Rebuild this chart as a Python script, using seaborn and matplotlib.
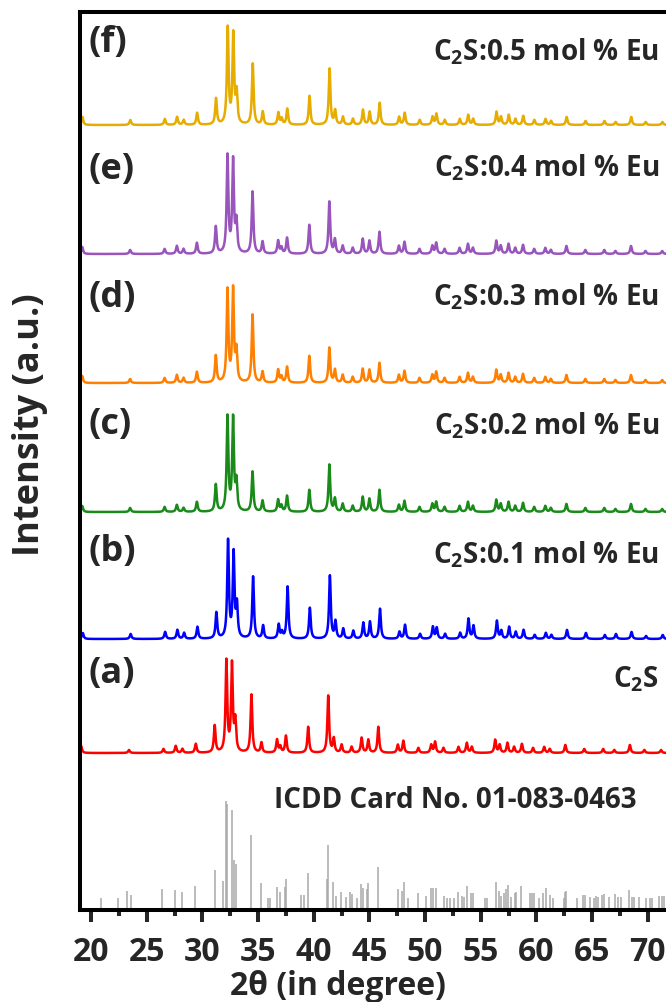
import numpy as np
import pandas as pd
import matplotlib
matplotlib.use("Agg")
import matplotlib.pyplot as plt
import seaborn as sns

# peak positions (2theta, degree)
peak_pos = [19.1, 23.4, 26.5, 27.6, 28.2, 29.4, 31.1, 32.15, 32.65, 32.95,
            34.4, 35.3, 36.7, 37.0, 37.5, 39.5, 41.3, 41.8, 42.5, 43.4,
            44.3, 44.9, 45.8, 47.55, 48.05, 49.4, 50.55, 50.9, 51.65, 53.0,
            53.75, 54.2, 56.3, 56.7, 57.4, 58.0, 58.7, 59.7, 60.7, 61.2,
            62.6, 64.3, 66.0, 67.0, 68.4, 69.7, 71.2]

# peak heights of each sample (same order as peak_pos)
h_a = [7, 3, 4, 7, 4, 9, 27, 91, 87, 30, 58, 10, 13, 6, 17, 26, 57, 14, 8, 6,
       15, 13, 26, 8, 12, 5, 8, 11, 5, 6, 10, 6, 13, 8, 10, 6, 9, 5, 6, 4,
       8, 4, 4, 3, 8, 3, 3]
h_b = [6, 5, 7, 9, 6, 12, 26, 97, 84, 32, 62, 13, 14, 6, 52, 31, 63, 17, 10, 8,
       16, 17, 30, 7, 14, 5, 12, 11, 5, 6, 20, 13, 18, 8, 12, 7, 9, 4, 6, 4,
       9, 6, 4, 5, 7, 3, 4]
h_c = [6, 4, 5, 7, 4, 10, 27, 94, 92, 28, 40, 11, 12, 6, 16, 22, 47, 13, 8, 6,
       15, 13, 22, 7, 11, 5, 8, 10, 5, 6, 10, 6, 12, 8, 10, 6, 9, 5, 6, 4,
       8, 4, 4, 3, 8, 3, 3]
h_d = [7, 4, 5, 8, 5, 11, 27, 92, 92, 30, 68, 11, 13, 6, 16, 27, 35, 13, 8, 6,
       14, 13, 20, 8, 12, 5, 8, 11, 5, 6, 10, 6, 13, 8, 10, 6, 9, 5, 6, 4,
       8, 4, 4, 3, 8, 3, 3]
h_e = [7, 4, 5, 8, 5, 11, 27, 97, 92, 30, 62, 12, 13, 6, 16, 29, 52, 14, 8, 6,
       15, 13, 22, 8, 12, 5, 8, 11, 5, 6, 10, 6, 13, 8, 10, 6, 9, 5, 6, 4,
       8, 4, 4, 3, 8, 3, 3]
h_f = [8, 5, 6, 8, 5, 12, 26, 96, 89, 30, 61, 13, 12, 6, 16, 29, 56, 14, 8, 6,
       15, 13, 22, 8, 12, 5, 8, 11, 5, 6, 10, 6, 13, 8, 10, 6, 9, 5, 6, 4,
       8, 4, 4, 3, 8, 3, 3]
shift = [0.0, 0.15, 0.1, 0.1, 0.1, 0.12]

sample_tags = ["(a)", "(b)", "(c)", "(d)", "(e)", "(f)"]
sample_names = [r"C$_\mathbf{2}$S", r"C$_\mathbf{2}$S:0.1 mol % Eu",
                r"C$_\mathbf{2}$S:0.2 mol % Eu", r"C$_\mathbf{2}$S:0.3 mol % Eu",
                r"C$_\mathbf{2}$S:0.4 mol % Eu", r"C$_\mathbf{2}$S:0.5 mol % Eu"]

# ICDD 01-083-0463 reference lines
card_pos = [20.87, 22.43, 23.26, 23.56, 26.4, 27.55, 28.18, 29.34, 31.1, 31.83,
            32.1, 32.24, 32.64, 32.82, 33.0, 34.4, 35.3, 35.93, 36.08, 36.7,
            36.98, 37.4, 37.52, 38.84, 39.08, 39.52, 41.17, 41.29, 41.77, 41.98,
            42.46, 42.94, 43.24, 43.45, 43.87, 44.2, 44.44, 44.77, 44.9, 45.74,
            47.55, 47.94, 48.1, 48.46, 49.35, 50.1, 50.55, 50.7, 51.0, 51.74,
            51.95, 52.25, 52.56, 53.0, 53.33, 53.54, 53.75, 54.14, 54.35, 55.34,
            55.55, 56.33, 56.6, 56.84, 57.05, 57.23, 57.43, 57.76, 58.06, 58.2,
            58.63, 59.4, 59.6, 59.83, 60.28, 60.58, 60.82, 61.18, 61.48, 62.44,
            62.6, 62.68, 63.67, 64.23, 64.41, 64.83, 65.16, 65.37, 65.58, 65.88,
            66.06, 66.48, 67.02, 67.32, 67.62, 68.3, 68.57, 68.8, 69.2, 69.86,
            70.25, 70.4, 71.06, 71.3, 71.5]
card_int = [12, 12, 19, 15, 21, 20, 18, 24, 40, 29,
            109, 106, 100, 50, 46, 75, 27, 12, 12, 23,
            18, 23, 31, 15, 15, 37, 31, 65, 28, 14,
            18, 13, 18, 16, 12, 26, 22, 21, 27, 43,
            21, 19, 28, 12, 17, 14, 22, 22, 22, 14,
            12, 12, 12, 18, 14, 13, 24, 17, 17, 12,
            12, 28, 19, 14, 17, 21, 25, 13, 17, 18,
            24, 17, 17, 17, 12, 17, 22, 15, 12, 12,
            18, 19, 12, 15, 15, 13, 12, 14, 13, 15,
            16, 13, 16, 13, 13, 20, 13, 13, 13, 12,
            12, 12, 14, 14, 14]

x_ticks = [20, 25, 30, 35, 40, 45, 50, 55, 60, 65, 70]

colors = ["#FF0000", "#0000FF", "#1A8A1A", "#FF8000", "#9955BB", "#E6AC00"]
offsets = [157, 271, 398, 527, 656, 785]
heights = [h_a, h_b, h_c, h_d, h_e, h_f]

two_theta = np.arange(19.0, 80.0, 0.01)


def pattern(heights_, dx):
    # narrow lorentzian line shape around each listed peak
    y = np.zeros_like(two_theta)
    for p, h in zip(peak_pos, heights_):
        y += h / (1 + ((two_theta - p - dx) / 0.09) ** 2)
    return y


sns.set_style("ticks")
plt.rcParams["font.family"] = ["Open Sans", "DejaVu Sans"]
plt.rcParams["font.weight"] = "bold"
plt.rcParams["mathtext.fontset"] = "custom"
plt.rcParams["mathtext.rm"] = "Open Sans:bold"
plt.rcParams["mathtext.bf"] = "Open Sans:bold"
plt.rcParams["mathtext.it"] = "Open Sans:bold"

W, H = 666, 1002
fig = plt.figure(figsize=(W / 100, H / 100), dpi=100)
ax = fig.add_axes([80 / W, (H - 910) / H, 679 / W, 898 / H])

for i in range(6):
    df = pd.DataFrame({"x": two_theta,
                       "y": pattern(heights[i], shift[i]) + offsets[i]})
    sns.lineplot(data=df, x="x", y="y", color=colors[i], lw=1.8,
                 estimator=None, sort=False, ax=ax)

ax.vlines(card_pos, 0, card_int, color="#A8A8A8", lw=1.1)

ax.set_xlim(19, 80)
ax.set_ylim(0, 898)
ax.set_yticks([])
ax.set_xticks(x_ticks)
ax.set_xticks([t + 2.5 for t in x_ticks], minor=True)
ax.tick_params(axis="x", which="major", direction="out", length=8.6,
               width=2.9, labelsize=23, pad=10)
ax.tick_params(axis="x", which="minor", direction="out", length=4.3, width=2.9)
for lab in ax.get_xticklabels():
    lab.set_fontweight("bold")
for s in ax.spines.values():
    s.set_linewidth(2.9)
    s.set_color("black")

ax.set_xlabel("2θ (in degree)", fontsize=23, fontweight="bold")
ax.xaxis.set_label_coords((338 - 80) / 679, -0.067)
ax.set_ylabel("Intensity (a.u.)", fontsize=26, fontweight="bold")
ax.yaxis.set_label_coords(-32 / 679, 0.54)


def px(x, y):
    return x / W, 1 - y / H


tag_y = [674, 552, 425, 298, 170, 43]
name_y = [679, 555, 426, 297, 168, 52]
for i in range(6):
    fig.text(*px(88, tag_y[i]), sample_tags[i], fontsize=26, fontweight="bold",
             ha="left", va="center")
    fig.text(*px(659, name_y[i]), sample_names[i], fontsize=20,
             fontweight="bold", ha="right", va="center")
fig.text(*px(637, 800), "ICDD Card No. 01-083-0463", fontsize=20,
         fontweight="bold", ha="right", va="center")

fig.savefig("out.png", dpi=100)
